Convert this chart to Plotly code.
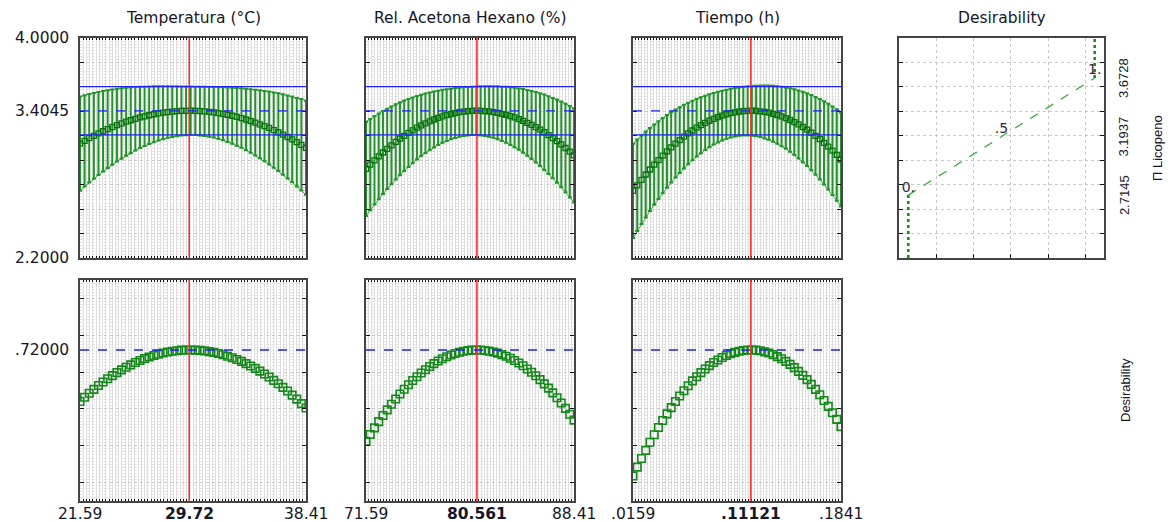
import numpy as np
import plotly.graph_objects as go

W, H = 1171, 522

# ---------------- data ----------------
factor_names = ["Temperatura (°C)", "Rel. Acetona Hexano (%)", "Tiempo (h)"]
temp_range = [21.59, 38.41]
acet_range = [71.59, 88.41]
time_range = [0.0159, 0.1841]
temp_opt, acet_opt, time_opt = 29.72, 80.561, 0.11121
x_tick_text = [["21.59", "29.72", "38.41"],
               ["71.59", "80.561", "88.41"],
               [".0159", ".11121", ".1841"]]
n_levels = 50  # profile evaluated at 50 equally spaced levels of each factor

response_range = [2.2, 4.0]
desir_axis_range = [-0.1, 1.1]
opt_pred = 3.4045
opt_ci_low, opt_ci_high = 3.207, 3.602
opt_desir = 0.72

# 95% CI half-width along the profiles
ci_half = [0.385, 0.374, 0.362, 0.351, 0.340, 0.329, 0.318, 0.308, 0.298, 0.288,
           0.278, 0.269, 0.260, 0.251, 0.243, 0.236, 0.229, 0.222, 0.217, 0.211,
           0.207, 0.204, 0.201, 0.199, 0.198, 0.198, 0.199, 0.201, 0.204, 0.207,
           0.211, 0.217, 0.222, 0.229, 0.236, 0.243, 0.251, 0.260, 0.269, 0.278,
           0.288, 0.298, 0.308, 0.318, 0.329, 0.340, 0.351, 0.362, 0.374, 0.385]

temp_mean = [3.136, 3.158, 3.180, 3.200, 3.219, 3.237, 3.255, 3.271, 3.287, 3.301,
             3.315, 3.327, 3.339, 3.350, 3.359, 3.368, 3.376, 3.383, 3.389, 3.394,
             3.398, 3.401, 3.403, 3.404, 3.405, 3.404, 3.402, 3.400, 3.396, 3.392,
             3.386, 3.380, 3.372, 3.364, 3.355, 3.345, 3.333, 3.321, 3.308, 3.294,
             3.279, 3.264, 3.247, 3.229, 3.210, 3.190, 3.170, 3.148, 3.126, 3.102]
temp_desir = [0.440, 0.463, 0.485, 0.506, 0.527, 0.546, 0.564, 0.581, 0.597, 0.612,
              0.626, 0.639, 0.652, 0.663, 0.673, 0.682, 0.690, 0.697, 0.704, 0.709,
              0.713, 0.716, 0.719, 0.720, 0.720, 0.719, 0.718, 0.715, 0.711, 0.707,
              0.701, 0.694, 0.686, 0.678, 0.668, 0.658, 0.646, 0.633, 0.620, 0.605,
              0.590, 0.573, 0.555, 0.537, 0.517, 0.497, 0.475, 0.453, 0.429, 0.405]

acet_mean = [2.929, 2.964, 2.999, 3.032, 3.063, 3.093, 3.122, 3.150, 3.176, 3.200,
             3.223, 3.245, 3.266, 3.285, 3.302, 3.318, 3.333, 3.347, 3.359, 3.369,
             3.378, 3.386, 3.393, 3.398, 3.401, 3.404, 3.405, 3.404, 3.402, 3.399,
             3.394, 3.388, 3.380, 3.372, 3.361, 3.350, 3.336, 3.322, 3.306, 3.289,
             3.270, 3.250, 3.229, 3.206, 3.181, 3.156, 3.129, 3.100, 3.070, 3.039]
acet_desir = [0.224, 0.261, 0.297, 0.331, 0.364, 0.395, 0.425, 0.454, 0.481, 0.507,
              0.531, 0.554, 0.575, 0.595, 0.613, 0.630, 0.646, 0.660, 0.672, 0.683,
              0.693, 0.701, 0.708, 0.713, 0.717, 0.719, 0.720, 0.720, 0.717, 0.714,
              0.709, 0.703, 0.695, 0.686, 0.675, 0.663, 0.649, 0.634, 0.617, 0.599,
              0.580, 0.559, 0.536, 0.513, 0.487, 0.461, 0.432, 0.403, 0.371, 0.339]

time_mean = [2.749, 2.795, 2.840, 2.883, 2.924, 2.964, 3.001, 3.038, 3.072, 3.105,
             3.136, 3.165, 3.193, 3.219, 3.243, 3.266, 3.287, 3.306, 3.323, 3.339,
             3.353, 3.365, 3.376, 3.385, 3.392, 3.398, 3.402, 3.404, 3.405, 3.403,
             3.400, 3.395, 3.389, 3.380, 3.370, 3.358, 3.345, 3.329, 3.312, 3.293,
             3.272, 3.250, 3.226, 3.200, 3.172, 3.142, 3.111, 3.078, 3.043, 3.006]
time_desir = [0.036, 0.084, 0.131, 0.175, 0.219, 0.260, 0.299, 0.337, 0.373, 0.407,
              0.440, 0.470, 0.499, 0.526, 0.552, 0.575, 0.597, 0.617, 0.635, 0.652,
              0.666, 0.679, 0.690, 0.700, 0.707, 0.713, 0.717, 0.720, 0.720, 0.719,
              0.716, 0.710, 0.704, 0.695, 0.684, 0.672, 0.658, 0.642, 0.624, 0.604,
              0.582, 0.559, 0.533, 0.506, 0.477, 0.446, 0.414, 0.379, 0.343, 0.304]

# desirability function of the response (Licopeno)
desir_levels = [0.0, 0.5, 1.0]
desir_response = [2.7145, 3.1937, 3.6728]
desir_labels = ["0.", ".5", "1."]
desir_resp_text = ["2.7145", "3.1937", "3.6728"]

# ---------------- layout helpers ----------------
def px(p):
    return p / W

def py(p):
    return 1 - p / H

col_px = [(80, 306), (366, 574), (633, 841), (899, 1104)]
top_px = (38, 258)
bot_px = (280, 501)

GREEN_BAR = "#22952a"
GREEN_DARK = "#0b6f12"
GREEN_SQ = "#14881a"
RED = "#ff2b2b"
BLUE = "#2020ff"
TXT = "#161628"
FONT = "DejaVu Sans"
FS = 15.5

fig = go.Figure()

ranges = [temp_range, acet_range, time_range]
opts = [temp_opt, acet_opt, time_opt]
means = [temp_mean, acet_mean, time_mean]
desirs = [temp_desir, acet_desir, time_desir]

layout = dict(
    width=W, height=H, margin=dict(l=0, r=0, t=0, b=0),
    paper_bgcolor="white", plot_bgcolor="white", showlegend=False,
    font=dict(family=FONT, color=TXT),
)
shapes = []
annotations = []

def dense_x_axis(dom, rng):
    return dict(domain=dom, range=rng, tick0=rng[0], dtick=(rng[1] - rng[0]) / 70,
                showgrid=True, gridcolor="#dedede", gridwidth=1,
                ticks="inside", ticklen=2, tickcolor="#111", tickwidth=1,
                showticklabels=False, showline=True, linecolor="#444", linewidth=1.5,
                mirror="ticks", zeroline=False, fixedrange=True)

def dense_y_axis(dom, rng, t0, anchor):
    return dict(domain=dom, range=rng, tick0=t0, dtick=0.2, anchor=anchor,
                showgrid=True, gridcolor="#c8c8c8", griddash="dot", gridwidth=1,
                minor=dict(dtick=(rng[1] - rng[0]) / 72, showgrid=True,
                           gridcolor="#e4e4e4", griddash="dot", gridwidth=1),
                ticks="inside", ticklen=4, tickcolor="#111", tickwidth=1,
                showticklabels=False, showline=True, linecolor="#444", linewidth=1.5,
                mirror="ticks", zeroline=False, fixedrange=True)

top_dom = [py(top_px[1]), py(top_px[0])]
bot_dom = [py(bot_px[1]), py(bot_px[0])]

for j in range(3):
    kt = j + 1          # top axis index
    kb = j + 5          # bottom axis index
    xd = [px(col_px[j][0]), px(col_px[j][1])]
    rng = ranges[j]
    xs = np.linspace(rng[0], rng[1], n_levels)
    mean = np.array(means[j])
    hw = np.array(ci_half)
    lo = mean - hw
    hi = mean + hw
    xa_t = "x" if kt == 1 else f"x{kt}"
    ya_t = "y" if kt == 1 else f"y{kt}"
    xa_b = f"x{kb}"
    ya_b = f"y{kb}"

    layout["xaxis" if kt == 1 else f"xaxis{kt}"] = dict(dense_x_axis(xd, rng), anchor=ya_t)
    layout["yaxis" if kt == 1 else f"yaxis{kt}"] = dense_y_axis(top_dom, response_range, 2.2, xa_t)
    layout[f"xaxis{kb}"] = dict(dense_x_axis(xd, rng), anchor=ya_b)
    layout[f"yaxis{kb}"] = dense_y_axis(bot_dom, desir_axis_range, 0.0, xa_b)

    # CI envelope lines
    fig.add_trace(go.Scatter(x=xs, y=hi, mode="lines", line=dict(color="#3aa83f", width=1),
                             xaxis=xa_t, yaxis=ya_t, hoverinfo="skip"))
    fig.add_trace(go.Scatter(x=xs, y=lo, mode="lines", line=dict(color="#3aa83f", width=1),
                             xaxis=xa_t, yaxis=ya_t, hoverinfo="skip"))
    # error bars + mean squares
    fig.add_trace(go.Scatter(
        x=xs, y=mean, mode="markers",
        marker=dict(symbol="square-open", size=5, color=GREEN_DARK, line=dict(width=1.3, color=GREEN_DARK)),
        error_y=dict(type="data", symmetric=False, array=hi - mean, arrayminus=mean - lo,
                     color=GREEN_BAR, thickness=2, width=2),
        xaxis=xa_t, yaxis=ya_t))
    # desirability profile
    fig.add_trace(go.Scatter(
        x=xs, y=desirs[j], mode="markers",
        marker=dict(symbol="square-open", size=7.5, color=GREEN_SQ, line=dict(width=1.6, color=GREEN_SQ)),
        xaxis=xa_b, yaxis=ya_b))

    # reference lines
    for xa, ya in ((xa_t, ya_t), (xa_b, ya_b)):
        shapes.append(dict(type="line", xref=xa, yref=f"{ya} domain", x0=opts[j], x1=opts[j],
                           y0=0, y1=1, line=dict(color=RED, width=1.6)))
    for yv, dash in ((opt_ci_high, "solid"), (opt_ci_low, "solid"), (opt_pred, "dash")):
        shapes.append(dict(type="line", xref=f"{xa_t} domain", yref=ya_t, x0=0, x1=1,
                           y0=yv, y1=yv, line=dict(color=BLUE, width=1.2, dash=dash)))
    shapes.append(dict(type="line", xref=f"{xa_b} domain", yref=ya_b, x0=0, x1=1,
                       y0=opt_desir, y1=opt_desir, line=dict(color=BLUE, width=1.3, dash="dash")))

    # title
    annotations.append(dict(text=factor_names[j], xref="paper", yref="paper",
                            x=(xd[0] + xd[1]) / 2, y=py(18), showarrow=False,
                            font=dict(size=FS, family=FONT, color=TXT),
                            xanchor="center", yanchor="middle"))
    # x tick labels
    for val, txt in zip([rng[0], opts[j], rng[1]], x_tick_text[j]):
        bold = txt == x_tick_text[j][1]
        annotations.append(dict(text=f"<b>{txt}</b>" if bold else txt, xref=xa_b, yref="paper",
                                x=val, y=py(514), showarrow=False,
                                font=dict(size=FS, family=FONT, color=TXT),
                                xanchor="center", yanchor="middle"))

# y tick labels at left
for val, txt in zip([response_range[1], opt_pred, response_range[0]], ["4.0000", "3.4045", "2.2000"]):
    annotations.append(dict(text=txt, xref="paper", yref="y", x=px(71), y=val, showarrow=False,
                            font=dict(size=FS, family=FONT, color=TXT), xanchor="right", yanchor="middle"))
annotations.append(dict(text=".72000", xref="paper", yref="y5", x=px(71), y=opt_desir, showarrow=False,
                        font=dict(size=FS, family=FONT, color=TXT), xanchor="right", yanchor="middle"))

# ---------------- desirability function panel ----------------
xd4 = [px(col_px[3][0]), px(col_px[3][1])]
layout["xaxis4"] = dict(domain=xd4, range=[-0.05, 1.05], tick0=-0.05, dtick=0.2, anchor="y4",
                        showgrid=True, gridcolor="#c8c8c8", griddash="dot", gridwidth=1,
                        ticks="inside", ticklen=4, tickcolor="#111", showticklabels=False,
                        showline=True, linecolor="#444", linewidth=1.5, mirror=True,
                        zeroline=False, fixedrange=True)
layout["yaxis4"] = dict(domain=top_dom, range=response_range, tick0=2.2, dtick=0.2, anchor="x4",
                        showgrid=True, gridcolor="#c8c8c8", griddash="dot", gridwidth=1,
                        ticks="inside", ticklen=4, tickcolor="#111", showticklabels=False,
                        showline=True, linecolor="#444", linewidth=1.5, mirror="ticks",
                        zeroline=False, fixedrange=True)
fig.add_trace(go.Scatter(x=[desir_levels[0], desir_levels[0]], y=[response_range[0], desir_response[0]],
                         mode="lines", line=dict(color="#118a18", width=2.5, dash="dot"),
                         xaxis="x4", yaxis="y4"))
fig.add_trace(go.Scatter(x=desir_levels, y=desir_response, mode="lines",
                         line=dict(color="#2ea836", width=1.2, dash="dash"),
                         xaxis="x4", yaxis="y4"))
fig.add_trace(go.Scatter(x=[desir_levels[-1], desir_levels[-1]], y=[desir_response[-1], response_range[1]],
                         mode="lines", line=dict(color="#118a18", width=2.5, dash="dot"),
                         xaxis="x4", yaxis="y4"))
fig.add_trace(go.Scatter(x=desir_levels, y=desir_response, mode="text", text=desir_labels,
                         textposition="top center",
                         textfont=dict(size=14, family=FONT, color="#2a2a3a"),
                         xaxis="x4", yaxis="y4"))
annotations.append(dict(text="Desirability", xref="paper", yref="paper", x=(xd4[0] + xd4[1]) / 2,
                        y=py(18), showarrow=False, xanchor="center", yanchor="middle",
                        font=dict(size=FS, family=FONT, color=TXT)))
for val, txt in zip(desir_response, desir_resp_text):
    annotations.append(dict(text=txt, xref="paper", yref="y4", x=px(1124), y=val, showarrow=False,
                            textangle=-90, font=dict(size=13, family="Liberation Sans", color=TXT),
                            xanchor="center", yanchor="middle"))
annotations.append(dict(text="Π Licopeno", xref="paper", yref="paper", x=px(1158), y=py(148),
                        showarrow=False, textangle=-90, xanchor="center", yanchor="middle",
                        font=dict(size=13, family="Liberation Sans", color=TXT)))
annotations.append(dict(text="Desirability", xref="paper", yref="paper", x=px(1125), y=py(390),
                        showarrow=False, textangle=-90, xanchor="center", yanchor="middle",
                        font=dict(size=13, family="Liberation Sans", color=TXT)))

layout["shapes"] = shapes
layout["annotations"] = annotations
fig.update_layout(**layout)
fig.write_html("out.html")
